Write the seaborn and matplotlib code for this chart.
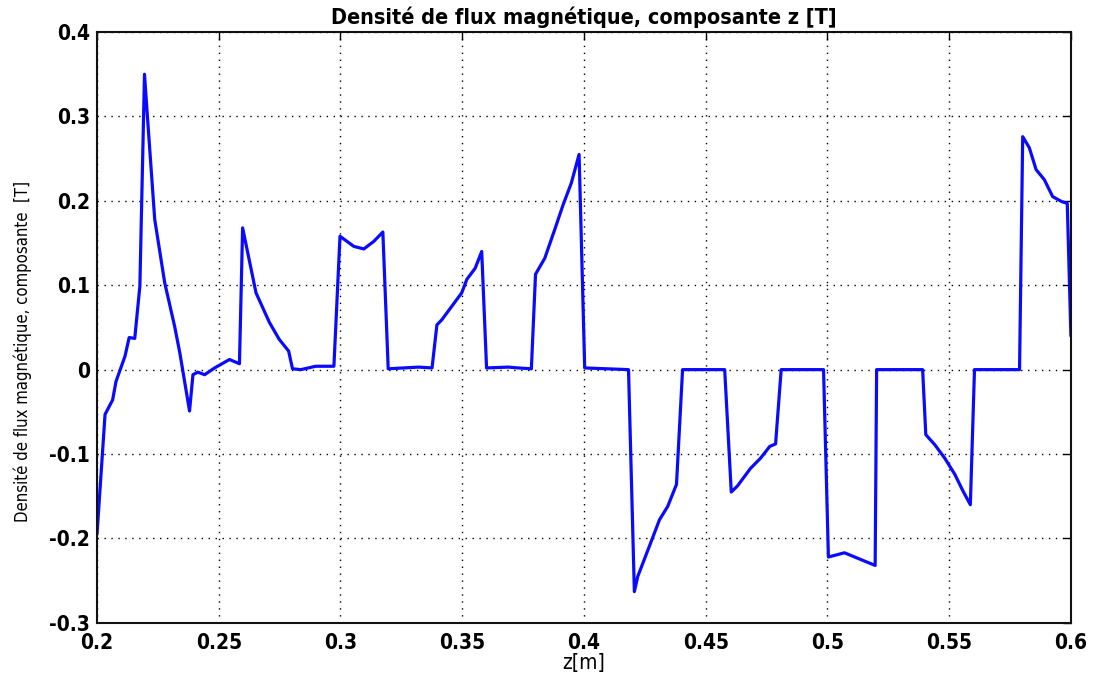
import matplotlib
matplotlib.use("Agg")
import matplotlib.pyplot as plt
import seaborn as sns
import pandas as pd

z_m = [0.2, 0.2033, 0.2064, 0.2078, 0.2115, 0.2132, 0.2155, 0.2176, 0.2195, 0.2206,
       0.2237, 0.2278, 0.2319, 0.234, 0.238, 0.2394, 0.2414, 0.2442, 0.2483, 0.2544,
       0.2585, 0.2598, 0.2653, 0.2708, 0.2748, 0.2787, 0.2803, 0.2837, 0.2898, 0.2973,
       0.2998, 0.3055, 0.3096, 0.3137, 0.3174, 0.3196, 0.3321, 0.3376, 0.3396, 0.3416,
       0.3457, 0.3498, 0.3519, 0.3553, 0.358, 0.36, 0.3689, 0.373, 0.3784, 0.3801,
       0.3839, 0.388, 0.3914, 0.3948, 0.398, 0.4003, 0.4183, 0.4207, 0.4221, 0.4269,
       0.431, 0.4344, 0.438, 0.4405, 0.4578, 0.4605, 0.463, 0.4684, 0.4725, 0.4763,
       0.4787, 0.481, 0.4984, 0.5004, 0.507, 0.5196, 0.5202, 0.5391, 0.5404, 0.5441,
       0.5482, 0.5523, 0.5557, 0.5587, 0.5604, 0.5789, 0.5802, 0.5829, 0.5857, 0.5891,
       0.5925, 0.5963, 0.5985, 0.6]
bz_T = [-0.195, -0.053, -0.036, -0.014, 0.016, 0.038, 0.037, 0.099, 0.35, 0.304,
        0.178, 0.103, 0.051, 0.02, -0.049, -0.006, -0.003, -0.006, 0.002, 0.012,
        0.007, 0.168, 0.091, 0.056, 0.036, 0.022, 0.001, 0.0, 0.004, 0.004,
        0.158, 0.146, 0.143, 0.152, 0.163, 0.001, 0.003, 0.002, 0.053, 0.059,
        0.075, 0.091, 0.107, 0.12, 0.14, 0.002, 0.003, 0.002, 0.001, 0.113,
        0.132, 0.166, 0.195, 0.221, 0.255, 0.002, 0.0, -0.263, -0.245, -0.209,
        -0.178, -0.162, -0.136, 0.0, 0.0, -0.145, -0.138, -0.117, -0.105, -0.091,
        -0.088, 0.0, 0.0, -0.222, -0.217, -0.232, 0.0, 0.0, -0.077, -0.089,
        -0.105, -0.124, -0.144, -0.16, 0.0, 0.0, 0.276, 0.263, 0.237, 0.225,
        0.205, 0.199, 0.197, 0.04]

x_ticks = [0.2, 0.25, 0.3, 0.35, 0.4, 0.45, 0.5, 0.55, 0.6]
x_tick_labels = ["0.2", "0.25", "0.3", "0.35", "0.4", "0.45", "0.5", "0.55", "0.6"]
y_ticks = [-0.3, -0.2, -0.1, 0.0, 0.1, 0.2, 0.3, 0.4]
y_tick_labels = ["-0.3", "-0.2", "-0.1", "0", "0.1", "0.2", "0.3", "0.4"]

title = "Densité de flux magnétique, composante z [T]"
xlabel = "z[m]"
ylabel = "Densité de flux magnétique, composante  [T]"

sns.set_style("white")
plt.rcParams["font.family"] = ["DejaVu Sans"]
plt.rcParams["font.stretch"] = "condensed"
plt.rcParams["text.color"] = "black"
plt.rcParams["axes.labelcolor"] = "black"

df = pd.DataFrame({"z": z_m, "Bz": bz_T})

fig = plt.figure(figsize=(10.95, 6.77), dpi=100)
ax = fig.add_axes([0.0886, 0.080, 0.8894, 0.8727])
sns.lineplot(data=df, x="z", y="Bz", ax=ax, sort=False, estimator=None,
             color="#0a0aff", linewidth=2.3)

ax.set_xlim(0.2, 0.6)
ax.set_ylim(-0.3, 0.4)
ax.set_xticks(x_ticks)
ax.set_xticklabels(x_tick_labels, fontsize=15, fontweight="bold")
ax.set_yticks(y_ticks)
ax.set_yticklabels(y_tick_labels, fontsize=15, fontweight="bold")
ax.tick_params(direction="in", top=True, right=True, length=6, width=1, pad=5,
               colors="black")
ax.tick_params(axis="x", pad=7)
ax.grid(True, linestyle=(0, (1, 4)), color="black", linewidth=1.0)
for s in ax.spines.values():
    s.set_color("#111111")
    s.set_linewidth(1.5)
    s.set_visible(True)

ax.set_title(title, fontsize=15.5, pad=6, fontweight="bold", color="black")
ax.set_xlabel(xlabel, fontsize=15, labelpad=0, fontweight="medium")
ax.set_ylabel(ylabel, fontsize=12, fontweight="medium")
ax.yaxis.set_label_coords(-0.067, 0.459)

fig.savefig("out.png", dpi=100)
